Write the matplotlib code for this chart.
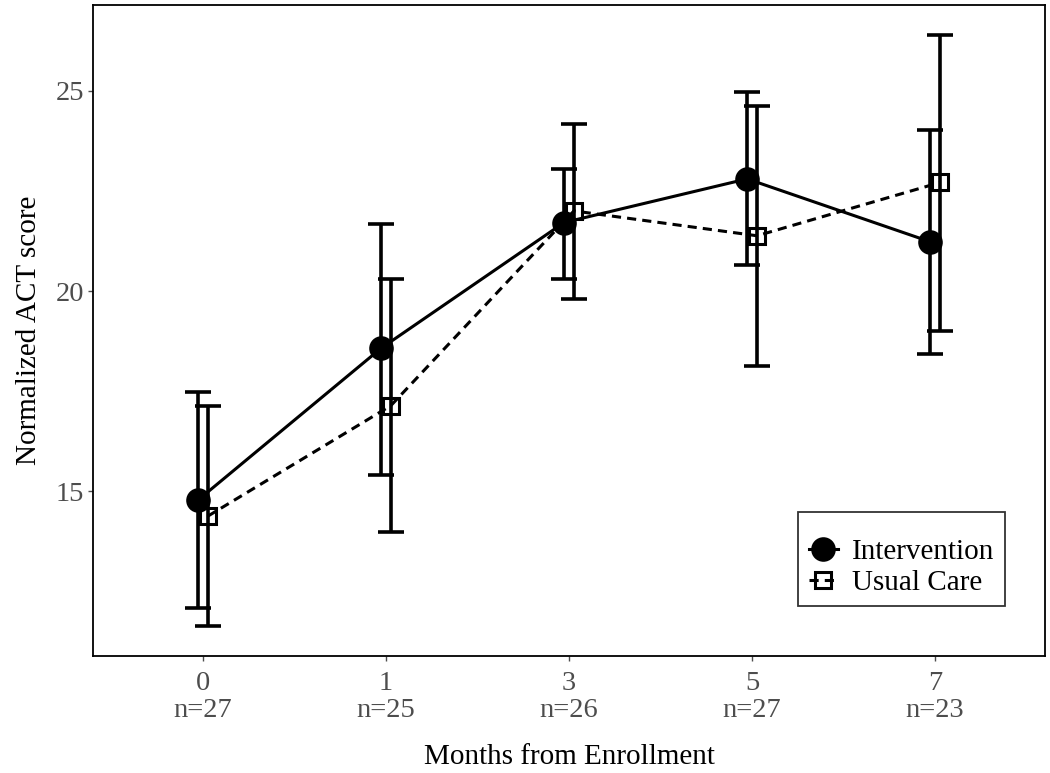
import matplotlib
matplotlib.use("Agg")
import matplotlib.pyplot as plt
import numpy as np

# Data
months = ['0', '1', '3', '5', '7']
n_labels = ['n=27', 'n=25', 'n=26', 'n=27', 'n=23']

int_mean = [14.78, 18.57, 21.71, 22.80, 21.23]
int_lo = [12.08, 15.42, 20.31, 20.66, 18.44]
int_hi = [17.47, 21.68, 23.05, 24.98, 24.03]

uc_mean = [14.38, 17.14, 22.00, 21.38, 22.71]
uc_lo = [11.63, 13.98, 19.79, 18.12, 18.99]
uc_hi = [17.12, 20.31, 24.18, 24.63, 26.40]

plt.rcParams['font.family'] = ['Liberation Serif', 'DejaVu Serif']

fig = plt.figure(figsize=(10.5, 7.73), dpi=100)
ax = fig.add_axes([0.0886, 0.1514, 0.9066, 0.8421])

x = np.arange(len(months))
dodge = 0.027


def draw_group(xpos, mean, lo, hi, marker, ls, face, ms, label):
    mean = np.array(mean)
    yerr = [mean - np.array(lo), np.array(hi) - mean]
    ax.errorbar(xpos, mean, yerr=yerr, fmt='none', ecolor='black',
                elinewidth=2.6, capsize=9.7, capthick=2.6, zorder=2)
    ax.plot(xpos, mean, color='black', linewidth=2.2, linestyle=ls,
            zorder=3)
    ax.plot(xpos, mean, linestyle='none', marker=marker, markersize=ms,
            markerfacecolor=face, markeredgecolor='black',
            markeredgewidth=2.2, zorder=4)
    # legend proxy
    return ax.plot([], [], color='black', linewidth=2.2, linestyle=ls,
                   marker=marker, markersize=ms, markerfacecolor=face,
                   markeredgecolor='black', markeredgewidth=2.2,
                   label=label)[0]


h1 = draw_group(x - dodge, int_mean, int_lo, int_hi, 'o', '-', 'black',
                15.5, 'Intervention')
h2 = draw_group(x + dodge, uc_mean, uc_lo, uc_hi, 's', (0, (3, 2)), 'none',
                11.5, 'Usual Care')

ax.set_xlim(-0.6, len(months) - 1 + 0.6)
ax.set_ylim(10.89, 27.14)
ax.set_xticks(x)
ax.set_xticklabels([m + '\n' + n for m, n in zip(months, n_labels)],
                   linespacing=1.12)
ax.set_yticks([15, 20, 25])

ax.tick_params(axis='both', colors='#4D4D4D', labelsize=20.5,
               length=3.5, width=1.0)
ax.tick_params(axis='x', pad=7)
ax.tick_params(axis='y', pad=3)
for sp in ax.spines.values():
    sp.set_linewidth(1.3)
    sp.set_color('black')

ax.set_xlabel('Months from Enrollment', fontsize=21, labelpad=15)
ax.set_ylabel('Normalized ACT score', fontsize=21, labelpad=10)

# empty title leaves the blank strip above the keys, as in the original
leg = ax.legend(handles=[h1, h2], loc='lower right',
                bbox_to_anchor=(0.958, 0.0768), borderaxespad=0,
                fontsize=21, frameon=True, fancybox=False,
                title=' ', title_fontsize=9,
                handlelength=1.0, handletextpad=0.5, borderpad=0.35,
                labelspacing=0.15)
leg.get_frame().set_edgecolor('black')
leg.get_frame().set_linewidth(1.3)

fig.savefig('out.png', dpi=100)
